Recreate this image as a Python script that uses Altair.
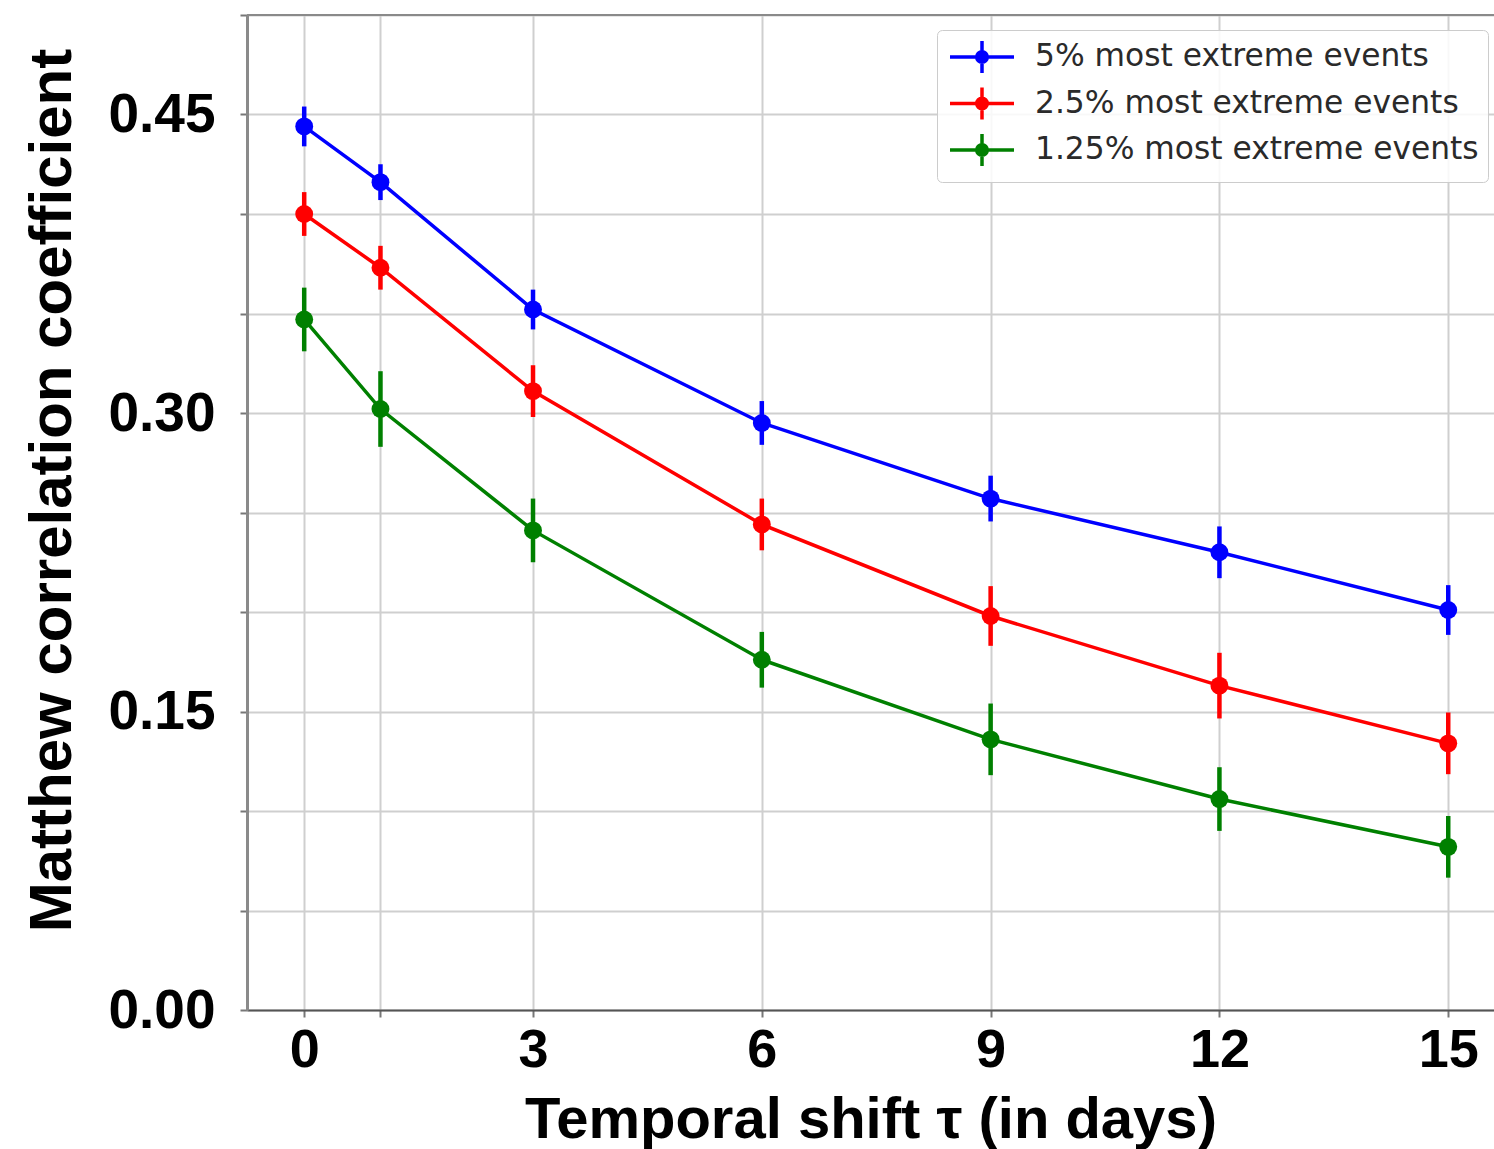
import altair as alt
import pandas as pd

# ---- data ----
tau = [0, 1, 3, 6, 9, 12, 15]
series_names = ["5% most extreme events", "2.5% most extreme events", "1.25% most extreme events"]
colors = ["#0000ff", "#ff0000", "#008000"]

mcc_5 = [0.444, 0.416, 0.352, 0.295, 0.257, 0.230, 0.201]
err_5 = [0.010, 0.009, 0.010, 0.011, 0.0115, 0.013, 0.0125]

mcc_25 = [0.400, 0.373, 0.311, 0.244, 0.198, 0.163, 0.134]
err_25 = [0.011, 0.011, 0.013, 0.013, 0.015, 0.0165, 0.0155]

mcc_125 = [0.347, 0.302, 0.241, 0.176, 0.136, 0.106, 0.082]
err_125 = [0.016, 0.019, 0.016, 0.014, 0.018, 0.016, 0.0155]

x_ticks = [0, 1, 3, 6, 9, 12, 15]
y_ticks = [0.0, 0.05, 0.10, 0.15, 0.20, 0.25, 0.30, 0.35, 0.40, 0.45, 0.50]

rows = []
for name, vals, errs in [(series_names[0], mcc_5, err_5),
                         (series_names[1], mcc_25, err_25),
                         (series_names[2], mcc_125, err_125)]:
    for t, v, e in zip(tau, vals, errs):
        rows.append({"tau": t, "mcc": v, "lo": v - e, "hi": v + e, "series": name})
df = pd.DataFrame(rows)

FONT = "Liberation Sans"

x_axis = alt.Axis(values=x_ticks, labelExpr="datum.value == 1 ? '' : datum.label",
                  grid=True, gridColor="#cfcfcf", gridWidth=2,
                  domainColor="#555555", domainWidth=2,
                  tickColor="#777777", tickSize=7, tickWidth=2,
                  labelFont=FONT, labelFontWeight="bold", labelFontSize=54, labelColor="black",
                  labelPadding=6, labelFlush=False, labelOverlap=False,
                  title="Temporal shift τ (in days)", titleFont=FONT, titleFontWeight="bold",
                  titleFontSize=58, titleColor="black", titlePadding=14)

y_axis = alt.Axis(values=y_ticks, format=".2f",
                  labelExpr="round(datum.value*100) % 15 == 0 ? datum.label : ''",
                  grid=True, gridColor="#cfcfcf", gridWidth=2,
                  domainColor="#8a8a8a", domainWidth=3,
                  tickColor="#777777", tickSize=7, tickWidth=2,
                  labelFont=FONT, labelFontWeight="bold", labelFontSize=55, labelColor="black",
                  labelPadding=25, labelOverlap=False, labelFlush=False,
                  title="Matthew correlation coefficient", titleFont=FONT, titleFontWeight="bold",
                  titleFontSize=60, titleColor="black",
                  titleX=-177, titleY=475, titleBaseline="alphabetic", titleAlign="center", titleAngle=-90)

xs = alt.Scale(domain=[-0.75, 15.6], nice=False, zero=False)
ys = alt.Scale(domain=[0, 0.5], nice=False)
cscale = alt.Scale(domain=series_names, range=colors)

def ring(r):
    return f"M{r},0A{r},{r},0,1,1,-{r},0A{r},{r},0,1,1,{r},0Z"

legend_symbol = "M-2,0L2,0M0,-1L0,1" + ring(0.33) + ring(0.15) + ring(0.04)

legend = alt.Legend(title=None, orient="none", legendX=690, legendY=15,
                    symbolType=legend_symbol,
                    symbolSize=1024, symbolStrokeWidth=3.5, symbolOffset=18,
                    symbolFillColor="transparent",
                    labelFont="DejaVu Sans", labelFontSize=31.3, labelColor="#2a2a2a", labelOffset=35,
                    labelLimit=1000,
                    padding=9, rowPadding=0.5,
                    fillColor="rgba(255,255,255,0.85)", strokeColor="#cccccc", cornerRadius=5)

base = alt.Chart(df)

x_enc = alt.X("tau:Q", scale=xs, axis=x_axis)
c_enc = alt.Color("series:N", scale=cscale, legend=legend)

lines = base.mark_line(strokeWidth=3.5).encode(
    x=x_enc,
    y=alt.Y("mcc:Q", scale=ys, axis=y_axis),
    color=c_enc,
)

err = base.mark_rule(strokeWidth=4.5).encode(
    x=x_enc,
    y=alt.Y("lo:Q", scale=ys, axis=y_axis),
    y2="hi:Q",
    color=c_enc,
)

pts = base.mark_circle(size=320, opacity=1).encode(
    x=x_enc,
    y=alt.Y("mcc:Q", scale=ys, axis=y_axis),
    color=c_enc,
)

top_border = alt.Chart(df).mark_rule(color="#8a8a8a", strokeWidth=2).encode(y=alt.value(0))

chart = alt.layer(lines, err, pts, top_border).properties(
    width=1247, height=995,
    autosize=alt.AutoSizeParams(type="none"),
    padding={"left": 247, "top": 15, "right": 0, "bottom": 139},
).configure_view(stroke=None).configure(background="white")

chart.save("out.html", embed_options={"renderer": "svg", "actions": False})
